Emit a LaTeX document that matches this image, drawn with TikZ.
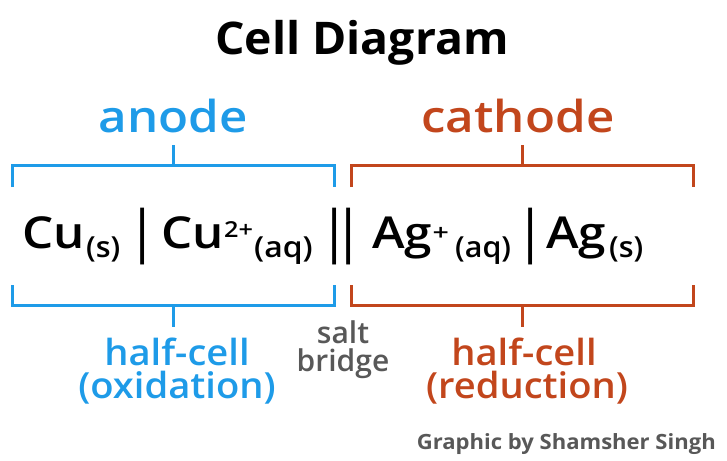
\documentclass[tikz,border=0pt]{standalone}
\usepackage{fontspec}
\setmainfont{Open Sans}
\newfontfamily\osb{Open Sans Semibold}
\definecolor{anodeblue}{HTML}{1E9BE8}
\definecolor{cathred}{HTML}{C2461C}
\definecolor{txtgray}{HTML}{585858}
\newcommand{\hs}[1]{\scalebox{1.12}[1]{#1}}
\newcommand{\vbar}{\scalebox{1}[1.3]{|}}
\tikzset{
  br/.style={line width=3pt},
  lab/.style={font=\osb\fontsize{44}{48}\selectfont, anchor=base, inner sep=0pt},
  sub/.style={font=\osb\fontsize{36}{40}\selectfont, anchor=base, inner sep=0pt},
  chem/.style={font=\osb\fontsize{44}{48}\selectfont, anchor=base west, inner sep=0pt},
  chemsub/.style={font=\osb\fontsize{29}{32}\selectfont, anchor=base west, inner sep=0pt},
  chemsup/.style={font=\osb\fontsize{22}{26}\selectfont, anchor=base west, inner sep=0pt},
  barsym/.style={font=\osb\fontsize{44}{48}\selectfont, anchor=base, inner sep=0pt},
  gray/.style={font=\osb\fontsize{30}{34}\selectfont, text=txtgray, anchor=base, inner sep=0pt},
}
\begin{document}
\begin{tikzpicture}[x=1pt,y=-1pt]
\useasboundingbox (0,0) rectangle (727,460);
\node[font=\bfseries\fontsize{45}{48}\selectfont, anchor=base, inner sep=0pt] (title) at (362,55) {\scalebox{1.03}[1]{Cell Diagram}};
\node[lab, text=anodeblue] (anode) at (173,132) {\hs{anode}};
\node[lab, text=cathred] (cathode) at (518,132) {\hs{cathode}};
% top brackets
\coordinate (at) at (173,145);
\coordinate (ct) at (522,145);
\draw[br, anodeblue] (12,187) -- (12,165) -- (334,165) -- (334,187);
\draw[br, anodeblue] (at) -- (173,165);
\draw[br, cathred] (351,187) -- (351,165) -- (693,165) -- (693,187);
\draw[br, cathred] (ct) -- (522,165);
% formula
\node[chem] (cu) at (22,248) {\hs{Cu}};
\node[chemsub] (cus) at (86,257) {\scalebox{1.05}[1]{(s)}};
\node[barsym] (bar1) at (143,251) {\vbar};
\node[chem] (cu2) at (161,248) {\hs{Cu}};
\node[chemsup] (cu2p) at ([yshift=11pt]cu2.base east) {\scalebox{1.15}[1]{2+}};
\node[chemsub] (cu2a) at (254,257) {\scalebox{1.1}[1]{(aq)}};
\node[barsym] (bar2a) at (335,251) {\vbar};
\node[barsym] (bar2b) at (349,251) {\vbar};
\node[chem] (ag) at (372,248) {\hs{Ag}};
\node[chemsup] (agp) at ([yshift=8pt]ag.base east) {\scalebox{1.3}[1]{+}};
\node[chemsub] (aga) at (455,257) {\scalebox{1.05}[1]{(aq)}};
\node[barsym] (bar3) at (531,251) {\vbar};
\node[chem] (ag2) at (546,248) {\hs{Ag}};
\node[chemsub] (ag2s) at (609,257) {\scalebox{1.05}[1]{(s)}};
% bottom brackets
\draw[br, anodeblue] (12,285) -- (12,305) -- (334,305) -- (334,285);
\draw[br, anodeblue] (173,305) -- (173,327) coordinate (ab);
\draw[br, cathred] (351,285) -- (351,305) -- (693,305) -- (693,285);
\draw[br, cathred] (522,305) -- (522,327) coordinate (cb);
\node[sub, text=anodeblue] (hc1) at (177,365) {\scalebox{1.06}[1]{half-cell}};
\node[sub, text=anodeblue] (ox) at (177,398) {\scalebox{1.06}[1]{(oxidation)}};
\node[sub, text=cathred] (hc2) at (524,365) {\scalebox{1.06}[1]{half-cell}};
\node[sub, text=cathred] (red) at (527,398) {\scalebox{1.06}[1]{(reduction)}};
\node[gray] (salt) at (343,343) {salt};
\node[gray] (bridge) at (343,371) {bridge};
\node[font=\bfseries\fontsize{21}{24}\selectfont, text=txtgray, anchor=base east, inner sep=0pt] (credit) at (716,449) {\scalebox{1.05}[1]{Graphic by Shamsher Singh}};
\end{tikzpicture}
\end{document}
